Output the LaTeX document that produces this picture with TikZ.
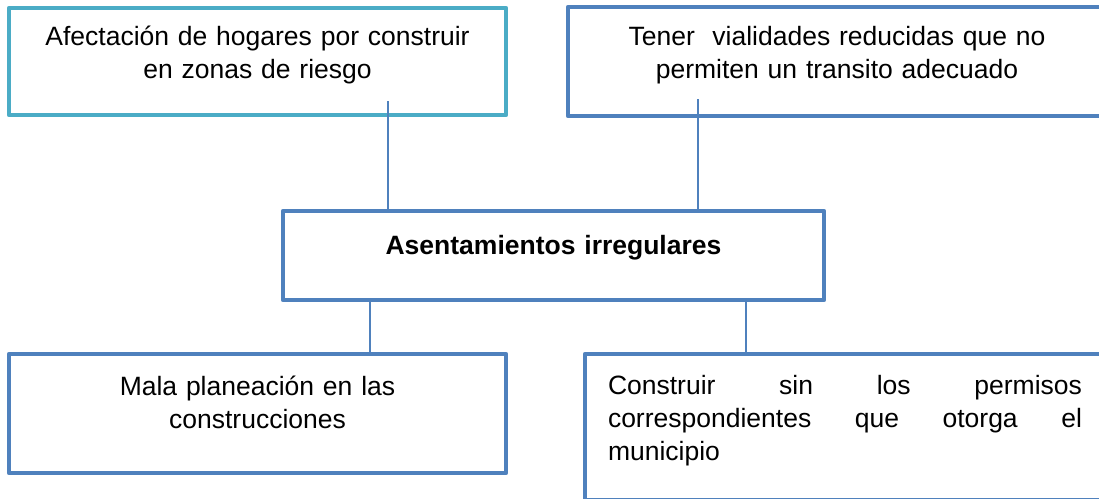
\documentclass[tikz,border=0pt]{standalone}
\usepackage{fontspec}
\setmainfont{Liberation Sans}
\usepackage{xcolor}
\usepackage{tikz}
\usetikzlibrary{calc}
\definecolor{ablue}{RGB}{79,129,189}
\definecolor{acyan}{RGB}{75,172,198}

\begin{document}
\begin{tikzpicture}[
  x=1pt, y=-1pt,
  box/.style={draw=ablue, line width=4.5pt, line join=round, anchor=north, align=center,
    inner sep=0pt, outer sep=0pt, font=\fontsize{26.5}{33}\selectfont},
  cyanbox/.style={box, draw=acyan},
  link/.style={draw=ablue, line width=1.8pt}
]
\useasboundingbox (0,0) rectangle (1099,498);
\node[cyanbox, minimum width=497pt, text width=480pt, text height=37pt, text depth=70pt] (afect) at (257.5,8)
  {Afectación de hogares por construir\\en zonas de riesgo};
\node[box, minimum width=538pt, text width=500pt, text height=38pt, text depth=71pt] (vial) at (837,7)
  {Tener~ vialidades reducidas que no\\permiten un transito adecuado};
\node[box, minimum width=541pt, text width=520pt, text height=43pt, text depth=46pt] (asent) at (553.5,211)
  {\bfseries Asentamientos irregulares};
\node[box, minimum width=497pt, text width=480pt, text height=41pt, text depth=78pt] (mala) at (257.5,354)
  {Mala planeación en las\\construcciones};
\node[box, align=left, minimum width=520pt, text width=474pt, text height=40pt, text depth=106pt] (perm) at (845,354)
  {Construir\hfill sin\hfill los\hfill permisos\\correspondientes\hfill que\hfill otorga\hfill el\\municipio};
\coordinate (p1) at (388,101);
\coordinate (p2) at (698,99);
\coordinate (p3) at (370,300);
\coordinate (p4) at (746,300);
\draw[link] (p1) -- (p1 |- asent.north);
\draw[link] (p2) -- (p2 |- asent.north);
\draw[link] (p3 |- asent.south) -- (p3 |- mala.north);
\draw[link] (p4 |- asent.south) -- (p4 |- perm.north);
\end{tikzpicture}
\end{document}
